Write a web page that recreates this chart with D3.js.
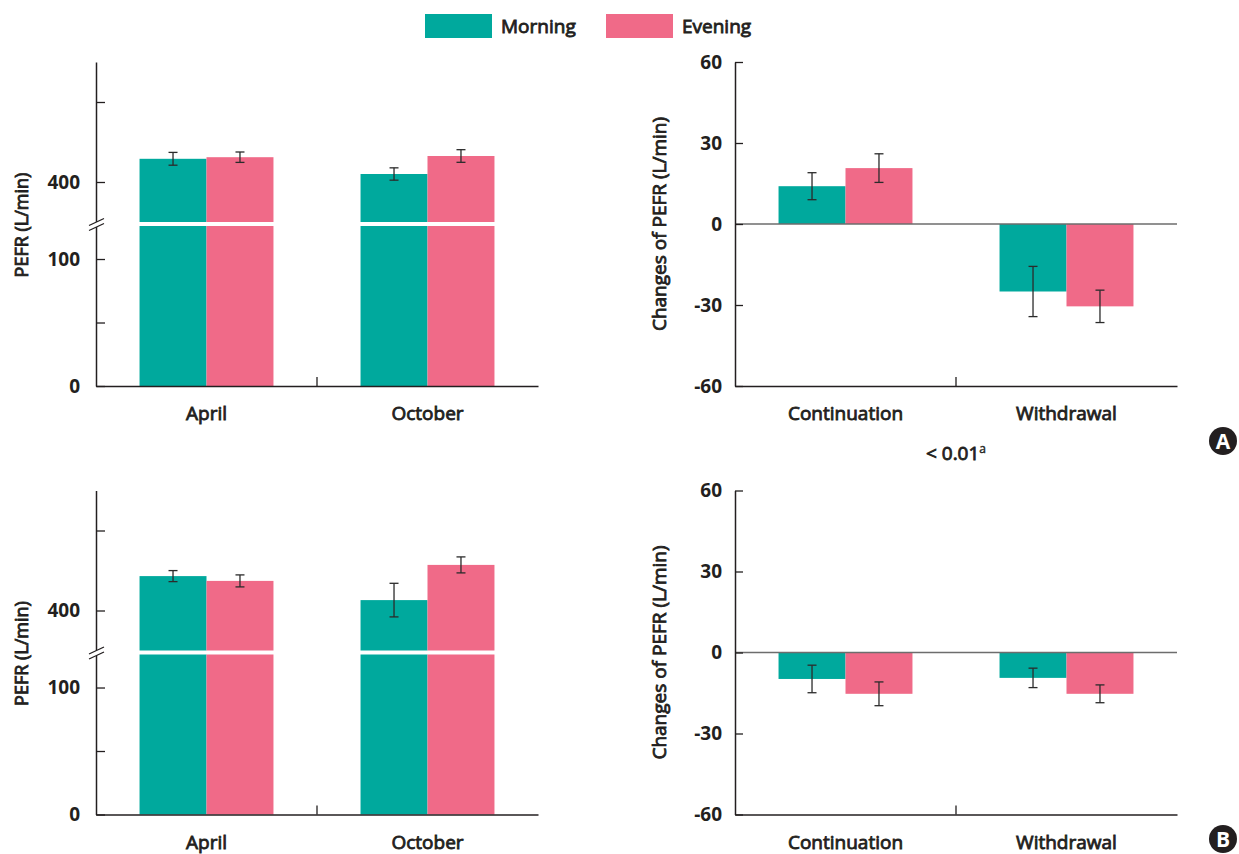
<!DOCTYPE html>
<html>
<head>
<meta charset="utf-8">
<script src="https://cdn.jsdelivr.net/npm/d3@7"></script>
<style>
  html, body { margin: 0; padding: 0; background: #fff; }
  svg { display: block; font-family: "Open Sans", "Lato", sans-serif; }
  .tick text { fill: #231f20; }
  .semi { stroke: #231f20; stroke-width: 0.85px; }
</style>
</head>
<body>
<svg id="chart" width="1239" height="854"></svg>
<script>
// ---- data ----
const seasons = ["April", "October"];
const groups = ["Continuation", "Withdrawal"];
const seriesNames = ["Morning", "Evening"];

// Panel A: absolute PEFR (L/min), mean and SE
const pefrMorningA = [429, 410];
const pefrEveningA = [431, 432.5];
const pefrMorningErrA = [8, 7.7];
const pefrEveningErrA = [6.5, 7.9];

// Panel A: change of PEFR
const changeMorningA = [14, -25];
const changeEveningA = [20.7, -30.5];
const changeMorningErrA = [5, 9.3];
const changeEveningErrA = [5.3, 6];

// Panel B: absolute PEFR
const pefrMorningB = [443, 413];
const pefrEveningB = [437, 457];
const pefrMorningErrB = [6.9, 21];
const pefrEveningErrB = [7.5, 10];

// Panel B: change of PEFR
const changeMorningB = [-9.8, -9.4];
const changeEveningB = [-15.3, -15.3];
const changeMorningErrB = [5.1, 3.6];
const changeEveningErrB = [4.4, 3.3];

// axis ticks
const lowerTicks = [0, 50, 100];
const lowerLabels = ["0", "", "100"];
const upperTicks = [400, 500];
const upperLabels = ["400", ""];
const changeTicks = [-60, -30, 0, 30, 60];

const pValueText = "< 0.01";
const pValueSup = "a";

// ---- styling ----
const FONT = "'Open Sans', Lato, sans-serif";
const COLORS = { Morning: "#00a99d", Evening: "#f06a88" };
const INK = "#231f20";

const svg = d3.select("#chart");

// ---- legend ----
const legend = svg.append("g");
const legendX = [425, 606];
seriesNames.forEach((name, i) => {
  legend.append("rect")
    .attr("x", legendX[i]).attr("y", 14)
    .attr("width", 67).attr("height", 24)
    .attr("fill", COLORS[name]);
  legend.append("text")
    .attr("class", "semi")
    .attr("x", legendX[i] + 76).attr("y", 33)
    .attr("font-size", 19).attr("fill", INK)
    .text(name);
});

function styleAxis(g, bold) {
  g.attr("font-family", FONT);
  g.selectAll(".domain").attr("stroke", INK).attr("stroke-width", 1.5);
  g.selectAll(".tick line").attr("stroke", INK).attr("stroke-width", 1.3);
  const t = g.selectAll(".tick text").attr("font-size", 19).attr("fill", INK);
  if (bold) t.attr("font-weight", 700);
  else t.attr("class", "semi");
}

function errorBars(g, xs, ys, errs, yScale) {
  const cap = 4.5;
  xs.forEach((x, i) => {
    const y0 = yScale(ys[i] - errs[i]), y1 = yScale(ys[i] + errs[i]);
    const e = g.append("g").attr("stroke", "#2b2b2b").attr("stroke-width", 1.3);
    e.append("line").attr("x1", x).attr("x2", x).attr("y1", y0).attr("y2", y1);
    e.append("line").attr("x1", x - cap).attr("x2", x + cap).attr("y1", y0).attr("y2", y0);
    e.append("line").attr("x1", x - cap).attr("x2", x + cap).attr("y1", y1).attr("y2", y1);
  });
}

// ---- left panels: broken axis bar chart ----
function pefrPanel(dy, morning, evening, mErr, eErr) {
  const g = svg.append("g").attr("transform", `translate(0,${dy})`);
  const x0 = d3.scaleBand().domain(seasons).range([96, 538]).paddingInner(0.394).paddingOuter(0.197);
  const x1 = d3.scaleBand().domain(seriesNames).range([0, x0.bandwidth()]);
  const yLow = d3.scaleLinear().domain([0, 126]).range([386, 226]);
  const yHigh = d3.scaleLinear().domain([350, 550]).range([222, 62]);

  const series = { Morning: morning, Evening: evening };
  seriesNames.forEach(name => {
    const vals = series[name];
    // lower segment: full height
    g.selectAll(null).data(seasons).enter().append("rect")
      .attr("x", d => x0(d) + x1(name))
      .attr("width", x1.bandwidth())
      .attr("y", yLow(126))
      .attr("height", yLow(0) - yLow(126))
      .attr("fill", COLORS[name]);
    // upper segment: from break to value
    g.selectAll(null).data(seasons).enter().append("rect")
      .attr("x", d => x0(d) + x1(name))
      .attr("width", x1.bandwidth())
      .attr("y", (d, i) => yHigh(vals[i]))
      .attr("height", (d, i) => yHigh(350) - yHigh(vals[i]))
      .attr("fill", COLORS[name]);
  });

  // y axis, lower and upper segments
  const axLow = g.append("g").attr("transform", "translate(96,0)")
    .call(d3.axisLeft(yLow).tickValues(lowerTicks).tickSizeInner(-9).tickSizeOuter(0).tickPadding(16)
      .tickFormat((d, i) => lowerLabels[i]));
  styleAxis(axLow, true);
  const axHigh = g.append("g").attr("transform", "translate(96,0)")
    .call(d3.axisLeft(yHigh).tickValues(upperTicks).tickSizeInner(-9).tickSizeOuter(0).tickPadding(16)
      .tickFormat((d, i) => upperLabels[i]));
  styleAxis(axHigh, true);

  // break marks
  const brk = g.append("g");
  brk.append("polygon")
    .attr("points", "89,225.5 104,218.5 104,223.5 89,230.5")
    .attr("fill", "#fff");
  brk.append("line").attr("x1", 89).attr("y1", 225.5).attr("x2", 104).attr("y2", 218.5)
    .attr("stroke", INK).attr("stroke-width", 1.3);
  brk.append("line").attr("x1", 89).attr("y1", 230.5).attr("x2", 104).attr("y2", 223.5)
    .attr("stroke", INK).attr("stroke-width", 1.3);

  // x axis
  const xa = g.append("g").attr("transform", "translate(0,386)")
    .call(d3.axisBottom(x0).tickSize(0).tickPadding(21));
  styleAxis(xa, false);
  g.append("line").attr("x1", 317).attr("x2", 317).attr("y1", 386).attr("y2", 377)
    .attr("stroke", INK).attr("stroke-width", 1.3);

  // error bars
  seriesNames.forEach(name => {
    const xs = seasons.map(s => x0(s) + x1(name) + x1.bandwidth() / 2);
    errorBars(g, xs, series[name], name === "Morning" ? mErr : eErr, yHigh);
  });

  // y title
  g.append("text")
    .attr("class", "semi")
    .attr("transform", "translate(28,225) rotate(-90)")
    .attr("text-anchor", "middle")
    .attr("font-size", 18).attr("fill", INK)
    .text("PEFR (L/min)");
}

// ---- right panels: change of PEFR ----
function changePanel(dy, morning, evening, mErr, eErr) {
  const g = svg.append("g").attr("transform", `translate(0,${dy})`);
  const x0 = d3.scaleBand().domain(groups).range([735, 1177]).paddingInner(0.394).paddingOuter(0.197);
  const x1 = d3.scaleBand().domain(seriesNames).range([0, x0.bandwidth()]);
  const y = d3.scaleLinear().domain([-60, 60]).range([386, 62]);

  const series = { Morning: morning, Evening: evening };
  seriesNames.forEach(name => {
    const vals = series[name];
    g.selectAll(null).data(groups).enter().append("rect")
      .attr("x", d => x0(d) + x1(name))
      .attr("width", x1.bandwidth())
      .attr("y", (d, i) => y(Math.max(0, vals[i])))
      .attr("height", (d, i) => Math.abs(y(vals[i]) - y(0)))
      .attr("fill", COLORS[name]);
  });

  // zero line
  g.append("line").attr("x1", 735).attr("x2", 1177).attr("y1", y(0)).attr("y2", y(0))
    .attr("stroke", "#6d6d6d").attr("stroke-width", 1.4);

  const ya = g.append("g").attr("transform", "translate(735,0)")
    .call(d3.axisLeft(y).tickValues(changeTicks).tickSizeInner(-8).tickSizeOuter(0).tickPadding(13));
  styleAxis(ya, true);
  ya.selectAll(".tick text").text(d => d < 0 ? "-" + Math.abs(d) : d);

  const xa = g.append("g").attr("transform", "translate(0,386)")
    .call(d3.axisBottom(x0).tickSize(0).tickPadding(21));
  styleAxis(xa, false);
  g.append("line").attr("x1", 956).attr("x2", 956).attr("y1", 386).attr("y2", 377)
    .attr("stroke", INK).attr("stroke-width", 1.3);

  seriesNames.forEach(name => {
    const xs = groups.map(s => x0(s) + x1(name) + x1.bandwidth() / 2);
    errorBars(g, xs, series[name], name === "Morning" ? mErr : eErr, y);
  });

  g.append("text")
    .attr("class", "semi")
    .attr("transform", "translate(666,224) rotate(-90)")
    .attr("text-anchor", "middle")
    .attr("font-size", 19).attr("fill", INK)
    .text("Changes of PEFR (L/min)");
}

function panelBadge(cx, cy, letter) {
  svg.append("circle").attr("cx", cx).attr("cy", cy).attr("r", 14).attr("fill", INK);
  svg.append("text").attr("x", cx).attr("y", cy + 7.5)
    .attr("text-anchor", "middle").attr("font-size", 21).attr("font-weight", 700)
    .attr("fill", "#fff").text(letter);
}

pefrPanel(0, pefrMorningA, pefrEveningA, pefrMorningErrA, pefrEveningErrA);
changePanel(0, changeMorningA, changeEveningA, changeMorningErrA, changeEveningErrA);
pefrPanel(428.5, pefrMorningB, pefrEveningB, pefrMorningErrB, pefrEveningErrB);
changePanel(428.5, changeMorningB, changeEveningB, changeMorningErrB, changeEveningErrB);

// p-value
const pv = svg.append("text").attr("class", "semi").attr("x", 956).attr("y", 460).attr("text-anchor", "middle")
  .attr("font-size", 19).attr("fill", INK);
pv.append("tspan").text(pValueText);
pv.append("tspan").attr("dy", -7).attr("font-size", 12).attr("stroke-width", 0.4).text(pValueSup);

panelBadge(1223, 441, "A");
panelBadge(1223, 839, "B");
</script>
</body>
</html>
